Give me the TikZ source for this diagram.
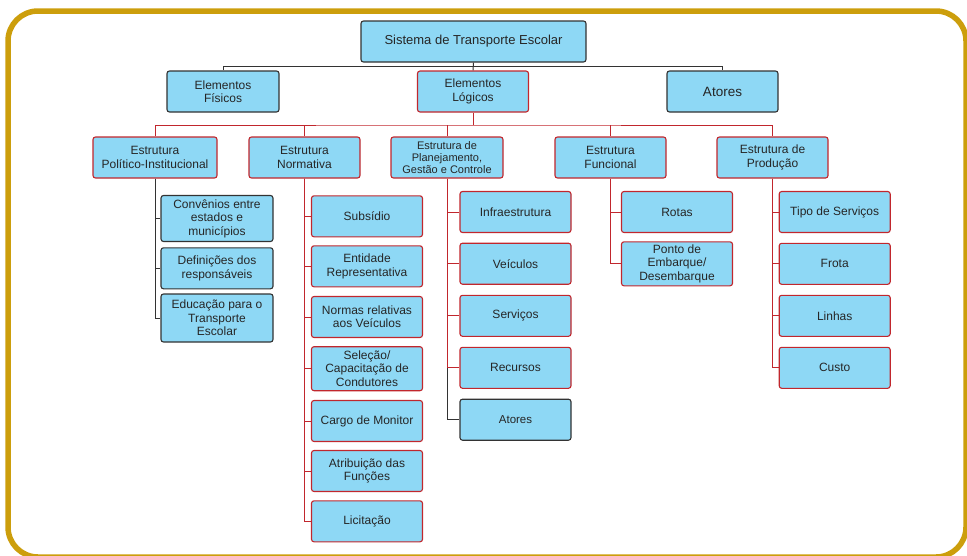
\documentclass[tikz,border=0pt]{standalone}
\usepackage{fontspec}
\setmainfont{Liberation Sans}
\usetikzlibrary{positioning}
\definecolor{framegold}{HTML}{CC9E0C}
\definecolor{boxblue}{HTML}{8ED8F5}
\definecolor{boxred}{HTML}{C1272D}
\definecolor{boxdark}{HTML}{333333}
\definecolor{boxtext}{HTML}{262626}
\newcommand{\fs}[1]{\fontsize{#1}{13.4}\selectfont}

\begin{document}
\begin{tikzpicture}[x=1pt,y=-1pt,
  box/.style={draw=boxred,fill=boxblue,text=boxtext,rounded corners=2.5pt,line width=1.1pt,align=center,inner sep=1pt,minimum width=111pt,minimum height=41pt,font=\fs{12}},
  darkbox/.style={box,draw=boxdark},
  rline/.style={draw=boxred,line width=1pt},
  dline/.style={draw=boxdark,line width=1pt}]
\useasboundingbox (0,0) rectangle (967,555);
\draw[framegold,line width=5.5pt,rounded corners=30pt] (8,11) rectangle (966,557);

\node[darkbox,minimum width=225pt,font=\fs{13}] (root) at (473.5,41.5) {Sistema de Transporte Escolar};
\node[darkbox,minimum width=112pt] (fis) at (223,91.5) {Elementos\\Físicos};
\node[box] (log) at (473,91.5) {Elementos\\Lógicos};
\node[darkbox,font=\fs{13.5}] (atr) at (722.5,91.5) {Atores};

\node[box,minimum width=124pt] (pol) at (155,157.5) {Estrutura\\Político-Institucional};
\node[box] (nor) at (304.5,157.5) {Estrutura\\Normativa};
\node[box,minimum width=112pt,font=\fs{11}] (pla) at (447,157.5) {Estrutura de\\[-1.5pt]Planejamento,\\[-1.5pt]Gestão e Controle};
\node[box] (fun) at (610.5,157.5) {Estrutura\\Funcional};
\node[box] (prod) at (772.5,157.5) {Estrutura de\\Produção};

\node[darkbox,minimum width=112pt,minimum height=46pt] (c1) at (217,218.5) {Convênios entre\\estados e\\municípios};
\node[darkbox,minimum width=112pt] (c2) at (217,268.3) {Definições dos\\responsáveis};
\node[darkbox,minimum width=112pt,minimum height=48pt] (c3) at (217,318) {Educação para o\\Transporte\\Escolar};

\node[box] (n1) at (367,216.3) {Subsídio};
\node[box] (n2) at (367,266.3) {Entidade\\Representativa};
\node[box] (n3) at (367,317) {Normas relativas\\aos Veículos};
\node[box,minimum height=44pt] (n4) at (367,368.7) {Seleção/\\Capacitação de\\Condutores};
\node[box] (n5) at (367,421) {Cargo de Monitor};
\node[box] (n6) at (367,471) {Atribuição das\\Funções};
\node[box] (n7) at (367,521.3) {Licitação};

\node[box] (p1) at (515.5,212) {Infraestrutura};
\node[box] (p2) at (515.5,263.7) {Veículos};
\node[box] (p3) at (515.5,315.8) {Serviços};
\node[box] (p4) at (515.5,367.8) {Recursos};
\node[darkbox,font=\fs{11.5}] (p5) at (515.5,419.7) {Atores};

\node[box] (f1) at (677,212) {Rotas};
\node[box,minimum height=44pt] (f2) at (677,263.8) {Ponto de\\Embarque/\\Desembarque};

\node[box] (r1) at (834.7,212) {Tipo de Serviços};
\node[box] (r2) at (834.7,263.8) {Frota};
\node[box] (r3) at (834.7,315.8) {Linhas};
\node[box] (r4) at (834.7,367.8) {Custo};

\coordinate (top) at (473,66.7);
\coordinate (mid) at (473,125);
\draw[dline] (root.south) -- (log.north);
\draw[dline] (fis.north) |- (top) -| (atr.north);
\draw[rline] (log.south) -- (mid);
\draw[rline] (pol.north) |- (mid) -| (prod.north);
\foreach \n in {nor,pla,fun}
  \draw[rline] (\n.north) -- (\n.north |- mid);

\foreach \n in {c1,c2,c3}
  \draw[dline] (pol.south) |- (\n.west);
\foreach \n in {n1,n2,n3,n4,n5,n6,n7}
  \draw[rline] (nor.south) |- (\n.west);
\foreach \n in {p1,p2,p3,p4}
  \draw[rline] (pla.south) |- (\n.west);
\draw[dline] (pla.south |- p4.west) |- (p5.west);
\foreach \n in {f1,f2}
  \draw[rline] (fun.south) |- (\n.west);
\foreach \n in {r1,r2,r3,r4}
  \draw[rline] (prod.south) |- (\n.west);
\end{tikzpicture}
\end{document}
